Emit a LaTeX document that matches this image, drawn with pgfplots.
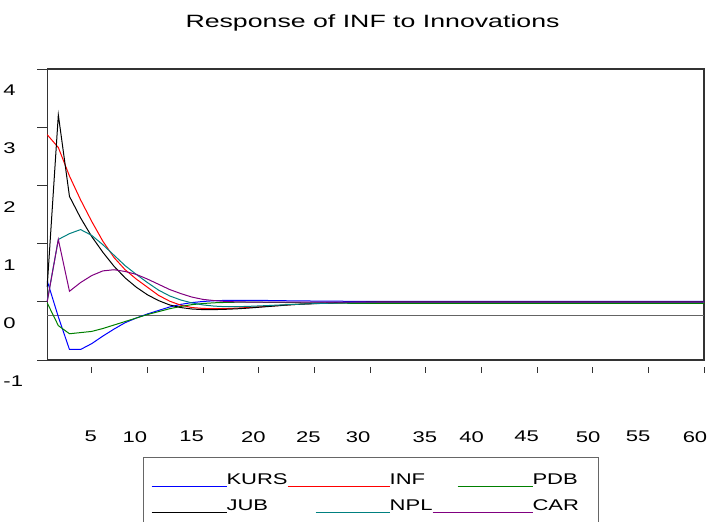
\documentclass[border=0pt]{standalone}
\usepackage{pgfplots}
\usepackage{pgfplotstable}
\usepackage{fontspec}
\pgfplotsset{compat=1.18}
\setmainfont{Liberation Sans}[FakeStretch=1.42]
\newfontfamily\titlefont{Liberation Sans}[FakeStretch=1.5]

\definecolor{ekurs}{RGB}{0,0,255}
\definecolor{einf}{RGB}{255,0,0}
\definecolor{epdb}{RGB}{0,128,0}
\definecolor{ejub}{RGB}{0,0,0}
\definecolor{enpl}{RGB}{0,128,128}
\definecolor{ecar}{RGB}{128,0,128}
\definecolor{zeroline}{RGB}{100,100,100}

% legend sample: coloured rule of length #2, right-aligned in a box of width #1
\newcommand{\legsample}[3]{\makebox[#1][r]{\textcolor{#3}{\rule[-2.15pt]{#2}{1.3pt}}}}

% response of INF, periods 1..60
\pgfplotstableread{
t  kurs   inf    pdb    jub    npl    car
1  0.60   3.11   0.22   0.50   0.25   0.24
2  -0.02  2.89   -0.17  3.45   1.31   1.31
3  -0.58  2.40   -0.31  2.05   1.41   0.42
4  -0.58  1.99   -0.29  1.68   1.48   0.57
5  -0.48  1.62   -0.27  1.36   1.38   0.69
6  -0.35  1.28   -0.22  1.09   1.22   0.77
7  -0.23  1.00   -0.16  0.85   1.04   0.79
8  -0.12  0.79   -0.10  0.65   0.86   0.76
9  -0.04  0.63   -0.04  0.49   0.71   0.71
10 0.03   0.49   0.02   0.36   0.57   0.63
11 0.09   0.35   0.07   0.26   0.44   0.54
12 0.15   0.25   0.12   0.185  0.34   0.45
13 0.195  0.18   0.16   0.14   0.27   0.38
14 0.225  0.14   0.19   0.115  0.22   0.32
15 0.245  0.125  0.21   0.105  0.185  0.28
16 0.257  0.12   0.222  0.105  0.165  0.26
17 0.263  0.122  0.228  0.11   0.155  0.245
18 0.265  0.13   0.232  0.118  0.155  0.238
19 0.265  0.14   0.233  0.13   0.16   0.235
20 0.263  0.152  0.232  0.145  0.168  0.234
21 0.261  0.165  0.23   0.16   0.176  0.233
22 0.258  0.178  0.228  0.175  0.185  0.232
23 0.256  0.19   0.225  0.19   0.193  0.232
24 0.254  0.20   0.222  0.20   0.20   0.232
25 0.252  0.208  0.22   0.21   0.207  0.232
26 0.25   0.215  0.218  0.218  0.213  0.232
27 0.249  0.22   0.216  0.224  0.218  0.232
28 0.248  0.225  0.214  0.228  0.222  0.232
29 0.247  0.228  0.212  0.23   0.225  0.232
30 0.246  0.23   0.211  0.232  0.227  0.232
31 0.245  0.232  0.21   0.232  0.228  0.232
32 0.245  0.232  0.21   0.232  0.228  0.232
33 0.245  0.232  0.21   0.232  0.228  0.232
34 0.245  0.232  0.21   0.232  0.228  0.232
35 0.245  0.232  0.21   0.232  0.228  0.232
36 0.245  0.232  0.21   0.232  0.228  0.232
37 0.245  0.232  0.21   0.232  0.228  0.232
38 0.245  0.232  0.21   0.232  0.228  0.232
39 0.245  0.232  0.21   0.232  0.228  0.232
40 0.245  0.232  0.21   0.232  0.228  0.232
41 0.245  0.232  0.21   0.232  0.228  0.232
42 0.245  0.232  0.21   0.232  0.228  0.232
43 0.245  0.232  0.21   0.232  0.228  0.232
44 0.245  0.232  0.21   0.232  0.228  0.232
45 0.245  0.232  0.21   0.232  0.228  0.232
46 0.245  0.232  0.21   0.232  0.228  0.232
47 0.245  0.232  0.21   0.232  0.228  0.232
48 0.245  0.232  0.21   0.232  0.228  0.232
49 0.245  0.232  0.21   0.232  0.228  0.232
50 0.245  0.232  0.21   0.232  0.228  0.232
51 0.245  0.232  0.21   0.232  0.228  0.232
52 0.245  0.232  0.21   0.232  0.228  0.232
53 0.245  0.232  0.21   0.232  0.228  0.232
54 0.245  0.232  0.21   0.232  0.228  0.232
55 0.245  0.232  0.21   0.232  0.228  0.232
56 0.245  0.232  0.21   0.232  0.228  0.232
57 0.245  0.232  0.21   0.232  0.228  0.232
58 0.245  0.232  0.21   0.232  0.228  0.232
59 0.245  0.232  0.21   0.232  0.228  0.232
60 0.245  0.232  0.21   0.232  0.228  0.232
}\irf

\begin{document}
\begin{tikzpicture}
\useasboundingbox (0,0) rectangle (708pt,521pt);
\begin{axis}[
    at={(47.2pt,161pt)}, anchor=south west,
    width=656.8pt, height=291pt, scale only axis,
    xmin=1, xmax=60, ymin=-0.761, ymax=4.239,
    clip=false,
    axis line style={draw=black!80, line width=1.1pt},
    tick align=outside, tick pos=left,
    major tick length=10pt,
    tick style={black!80, line width=0.8pt},
    % x ticks: short, detached from the frame; their labels sit apart (extra ticks)
    xtick={5,10,...,60}, xticklabels={},
    xtick style={yshift=-2.6pt, dash pattern=on 5.5pt off 20pt},
    ytick={-0.761,0.239,1.239,2.239,3.239,4.239},
    yticklabels={-1,0,1,2,3,4},
    yticklabel style={anchor=west, inner sep=0pt, xshift=-33.9pt, yshift=-21.3pt},
    tick label style={font=\fontsize{15.5}{18}\selectfont},
    extra x ticks={4.907,8.886,13.98,19.51,24.45,28.94,34.93,39.13,44.07,49.60,54.09,59.19},
    extra x tick labels={5,10,15,20,25,30,35,40,45,50,55,60},
    extra x tick style={major tick length=0pt, tick style={draw=none},
        xticklabel style={anchor=center, inner sep=0pt, yshift=-76.7pt}},
    title={Response of INF to Innovations},
    title style={font=\titlefont\fontsize{17.8}{20}\selectfont, at={(0.4953,1)}, anchor=base, inner sep=0pt, yshift=35pt},
]
\addplot[zeroline, line width=1.2pt] coordinates {(1,0) (60,0)};
\addplot[ekurs, line width=1pt] table[x=t, y=kurs] {\irf};
\addplot[einf, line width=1pt] table[x=t, y=inf] {\irf};
\addplot[epdb, line width=1pt] table[x=t, y=pdb] {\irf};
\addplot[ejub, line width=1pt] table[x=t, y=jub] {\irf};
\addplot[enpl, line width=1pt] table[x=t, y=npl] {\irf};
\addplot[ecar, line width=1pt] table[x=t, y=car] {\irf};
% legend box (its lower edge falls below the page, as in the reference)
\node[anchor=north west, draw=black!60, line width=0.8pt, inner xsep=8.3pt, inner ysep=15pt,
      font=\fontsize{15.5}{18}\selectfont]
    at (rel axis cs:0.1456,-0.3333) {%
    \begin{tabular}{@{}l@{}l@{}l@{}}
    \legsample{75pt}{75pt}{ekurs}KURS & \legsample{102pt}{102pt}{einf}INF & \legsample{100pt}{75pt}{epdb}\makebox[58pt][l]{PDB}\\[7.7pt]
    \legsample{75pt}{75pt}{ejub}JUB & \legsample{102pt}{74pt}{enpl}NPL & \legsample{100pt}{100pt}{ecar}CAR
    \end{tabular}};
\end{axis}
\end{tikzpicture}
\end{document}
